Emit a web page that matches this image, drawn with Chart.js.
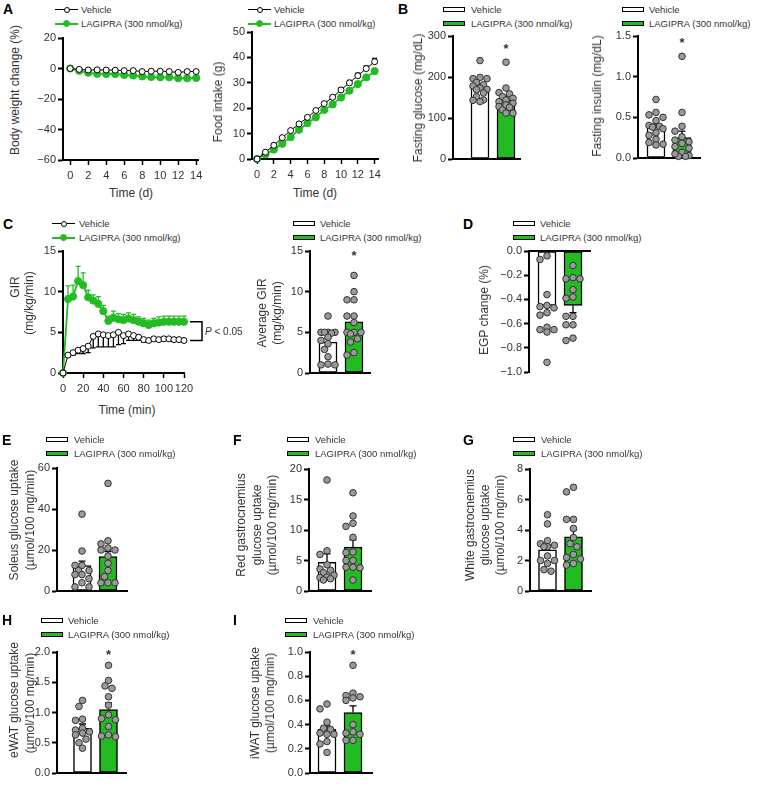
<!DOCTYPE html>
<html>
<head>
<meta charset="utf-8">
<title>LAGIPRA</title>
<script src="https://cdn.jsdelivr.net/npm/chart.js@4.4.1/dist/chart.umd.min.js"></script>
<style>
  html, body { margin: 0; padding: 0; background: #fff; }
  #fig { position: relative; width: 763px; height: 787px; overflow: hidden; background: #fff;
         font-family: "Liberation Sans", Arial, sans-serif; color: #333; }
  #fig canvas { position: absolute; }
  .tag { position: absolute; font-size: 14px; line-height: 14px; font-weight: bold; color: #000; }
  .lg { position: absolute; font-size: 9.5px; line-height: 12px; white-space: nowrap; }
  .sym { position: absolute; box-sizing: border-box; }
  .ttl { position: absolute; font-size: 12px; line-height: 14px; white-space: nowrap; }
  .pv { position: absolute; font-size: 10px; line-height: 12px; white-space: nowrap; }
</style>
</head>
<body>
<div id="fig"></div>
<script>
// ---- data ----
const groups = ['Vehicle', 'LAGIPRA (300 nmol/kg)'];

// A: body weight change (%) and cumulative food intake (g), days 0-14
const days = [0, 1, 2, 3, 4, 5, 6, 7, 8, 9, 10, 11, 12, 13, 14];
const dayTicks = [0, 2, 4, 6, 8, 10, 12, 14];
const bwVehicle = [0, -0.6, -1.0, -0.9, -1.0, -1.1, -1.4, -1.4, -2.0, -1.8, -1.8, -2.0, -2.6, -2.0, -2.0];
const bwLagipra = [0, -1.5, -2.8, -3.5, -3.6, -3.6, -4.2, -4.6, -5.2, -5.6, -5.8, -5.8, -6.4, -6.4, -6.2];
const foodVehicle = [0, 2.7, 5.4, 8.4, 11.2, 13.8, 16.4, 19.1, 21.8, 24.3, 27.2, 30.0, 32.8, 35.6, 38.3];
const foodVehicleSem = [0, 0.2, 0.3, 0.4, 0.4, 0.5, 0.5, 0.6, 0.6, 0.7, 0.8, 0.9, 1.0, 1.1, 1.3];
const foodLagipra = [0, 1.8, 3.7, 6.0, 8.6, 11.5, 14.1, 16.4, 19.3, 21.5, 24.2, 26.9, 29.5, 32.1, 34.6];
const foodLagipraSem = [0, 0.2, 0.3, 0.3, 0.4, 0.4, 0.5, 0.5, 0.6, 0.6, 0.7, 0.7, 0.8, 0.9, 1.0];

// C: glucose infusion rate during clamp (mg/kg/min), every 5 min
const clampMin = [0, 5, 10, 15, 20, 25, 30, 35, 40, 45, 50, 55, 60, 65, 70, 75, 80, 85, 90, 95, 100, 105, 110, 115, 120];
const minTicks = [0, 20, 40, 60, 80, 100, 120];
const girVehicle = [0, 2.2, 2.5, 2.8, 3.0, 3.3, 4.5, 4.8, 4.7, 4.6, 4.7, 5.0, 4.6, 4.8, 4.6, 4.4, 4.1, 4.0, 4.2, 4.1, 4.2, 4.2, 4.1, 4.1, 4.0];
const girVehicleSem = [0, 0.2, 0.3, 0.4, 0.6, 0.8, 1.4, 1.6, 1.5, 1.4, 1.5, 1.5, 1.0, 0.8, 0.6, 0.4, 0.3, 0.2, 0.2, 0.2, 0.2, 0.2, 0.2, 0.2, 0.2];
const girLagipra = [0, 9.1, 9.4, 11.3, 10.8, 9.3, 8.9, 8.5, 7.6, 6.4, 6.8, 6.6, 6.5, 6.7, 6.5, 6.3, 6.1, 5.9, 6.1, 6.2, 6.3, 6.3, 6.3, 6.3, 6.3];
const girLagipraSem = [0, 1.6, 1.4, 1.8, 1.5, 0.9, 0.7, 0.9, 0.7, 0.6, 0.8, 0.7, 0.7, 0.7, 0.7, 0.6, 0.6, 0.6, 0.6, 0.7, 0.7, 0.7, 0.7, 0.7, 0.7];

// individual animals + bar mean and SEM, [vehicle, LAGIPRA]
const glucoseVehicle = [240, 199, 196, 196, 187, 181, 178, 173, 170, 169, 161, 152, 144, 140, 143];
const glucoseLagipra = [236, 173, 162, 159, 152, 148, 144, 140, 136, 128, 120, 112, 112, 132, 126];
const glucoseMean = [175, 145];
const glucoseSem = [7, 8];

const insulinVehicle = [0.72, 0.56, 0.53, 0.50, 0.46, 0.40, 0.39, 0.36, 0.31, 0.28, 0.23, 0.19, 0.16, 0.17, 0.38];
const insulinLagipra = [1.25, 0.56, 0.39, 0.33, 0.26, 0.22, 0.18, 0.14, 0.07, 0.03, 0.02, 0.02, 0.12, 0.05, 0.20];
const insulinMean = [0.38, 0.25];
const insulinSem = [0.04, 0.08];

const avgGirVehicle = [7.0, 5.0, 5.0, 5.0, 5.0, 4.9, 4.4, 4.0, 3.6, 2.9, 2.0, 1.1, 1.0, 1.0];
const avgGirLagipra = [12.0, 10.0, 9.0, 9.0, 7.0, 7.0, 6.2, 5.0, 5.0, 5.0, 4.8, 4.2, 3.8, 2.5, 2.2];
const avgGirMean = [3.8, 6.3];
const avgGirSem = [0.5, 0.7];

const egpVehicle = [-0.04, -0.07, -0.36, -0.45, -0.46, -0.47, -0.51, -0.53, -0.63, -0.65, -0.67, -0.65, -0.92];
const egpLagipra = [-0.12, -0.23, -0.23, -0.22, -0.32, -0.39, -0.38, -0.54, -0.54, -0.61, -0.61, -0.74, -0.72];
const egpMean = [-0.45, -0.45];
const egpSem = [0.06, 0.06];

const soleusVehicle = [37.5, 19.5, 12.5, 12.5, 10, 10, 8, 8, 6, 4, 2, 2];
const soleusLagipra = [52.5, 24.5, 23, 21, 20, 20, 17, 13.5, 10, 7, 4, 4, 4];
const soleusMean = [12.4, 16.8];
const soleusSem = [2.2, 2.4];

const redGasVehicle = [18.2, 6.6, 6.0, 4.3, 3.6, 3.4, 3.0, 2.6, 2.3, 2.2, 2.0, 1.8];
const redGasLagipra = [16.1, 12.3, 11.1, 10.6, 8.8, 6.4, 6.3, 5.0, 5.0, 3.9, 3.9, 3.8, 1.8];
const redGasMean = [4.7, 7.2];
const redGasSem = [1.4, 1.2];

const whiteGasVehicle = [5.0, 4.4, 3.3, 3.1, 3.0, 2.9, 2.9, 2.3, 2.0, 2.0, 1.8, 1.4, 1.3];
const whiteGasLagipra = [6.8, 6.5, 4.7, 4.7, 4.1, 3.5, 3.1, 2.9, 2.4, 2.2, 2.1, 1.8, 1.7];
const whiteGasMean = [2.7, 3.55];
const whiteGasSem = [0.3, 0.45];

const ewatVehicle = [1.2, 1.1, 0.89, 0.87, 0.74, 0.71, 0.68, 0.66, 0.63, 0.56, 0.5, 0.41];
const ewatLagipra = [1.78, 1.53, 1.44, 1.4, 1.26, 1.12, 0.96, 0.9, 0.88, 0.77, 0.63, 0.6, 0.61];
const ewatMean = [0.74, 1.05];
const ewatSem = [0.07, 0.11];

const iwatVehicle = [0.57, 0.53, 0.42, 0.37, 0.36, 0.33, 0.32, 0.32, 0.26, 0.24, 0.17];
const iwatLagipra = [0.89, 0.66, 0.64, 0.63, 0.62, 0.60, 0.40, 0.34, 0.33, 0.32, 0.27, 0.27];
const iwatMean = [0.36, 0.50];
const iwatSem = [0.03, 0.055];

// ---- drawing ----
const GREEN = '#22bb22';
const DOT = '#9a9a9a';
const INK = '#333';
const FONT = '"Liberation Sans", Arial, sans-serif';
Chart.defaults.font.family = FONT;
Chart.defaults.font.size = 11;
Chart.defaults.color = INK;

const fig = document.getElementById('fig');

function put(html, cls, x, y, tf) {
  const el = document.createElement('div');
  el.className = cls;
  el.innerHTML = html;
  el.style.left = x + 'px';
  el.style.top = y + 'px';
  if (tf) el.style.transform = tf;
  fig.appendChild(el);
  return el;
}
const tag = (t, x, y) => put(t, 'tag', x, y);
const vTitle = (t, x, y) => put(t, 'ttl', x, y, 'translate(-50%,-50%) rotate(-90deg)');
const hTitle = (t, x, y) => put(t, 'ttl', x, y, 'translate(-50%,-50%)');

function legend(kind, x, y, tx) {
  [[groups[0], '#fff', '#000'], [groups[1], GREEN, GREEN]].forEach(([name, fill, line], i) => {
    const cy = y + i * 14;
    if (kind === 'line') {
      const l = put('', 'sym', x, cy - (i ? 1 : 0.5));
      l.style.width = '23px';
      l.style.height = (i ? 2 : 1) + 'px';
      l.style.background = line;
      const r = i ? 3.5 : 3;
      const c = put('', 'sym', x + 11.5 - r, cy - r);
      c.style.width = c.style.height = 2 * r + 'px';
      c.style.borderRadius = '50%';
      c.style.background = fill;
      c.style.border = '1px solid ' + line;
    } else {
      const b = put('', 'sym', x, cy - 2.5);
      b.style.width = '22px';
      b.style.height = '5px';
      b.style.background = fill;
      b.style.border = '1px solid #000';
    }
    put(name, 'lg', tx, cy - 6);
  });
}

function canvasAt(left, top, w, h) {
  const c = document.createElement('canvas');
  c.width = w; c.height = h;
  c.style.left = left + 'px'; c.style.top = top + 'px';
  c.style.width = w + 'px'; c.style.height = h + 'px';
  fig.appendChild(c);
  return c;
}

const fmt = dec => v => Number(v).toFixed(dec).replace('-', '\u2212');

// error bars go before the dataset so points/bars sit on top
const errorBars = {
  id: 'errorBars',
  beforeDatasetDraw(chart, args) {
    const ds = chart.data.datasets[args.index];
    if (!ds.errors) return;
    const { ctx, scales: { x, y } } = chart;
    ctx.save();
    ctx.strokeStyle = ds.errorColor || '#000';
    ctx.lineWidth = 1.3;
    ds.data.forEach((p, i) => {
      const e = ds.errors[i];
      if (!e) return;
      const dir = ds.errorDir || (p.y < 0 ? -1 : 1);
      const px = x.getPixelForValue(p.x);
      const y0 = y.getPixelForValue(p.y), y1 = y.getPixelForValue(p.y + dir * e);
      const cap = ds.capHalf || 3;
      ctx.beginPath();
      ctx.moveTo(px, y0); ctx.lineTo(px, y1);
      ctx.moveTo(px - cap, y1); ctx.lineTo(px + cap, y1);
      ctx.stroke();
    });
    ctx.restore();
  }
};

// asterisk above the LAGIPRA bar, P-value bracket on the clamp curve
const marks = {
  id: 'marks',
  afterDraw(chart, args, o) {
    const { ctx, chartArea, scales: { x, y } } = chart;
    ctx.save();
    ctx.fillStyle = INK;
    ctx.strokeStyle = '#000';
    if (o.star != null) {
      ctx.font = 'bold 13px ' + FONT;
      ctx.textAlign = 'center';
      ctx.textBaseline = 'middle';
      ctx.fillText('*', x.getPixelForValue(1), chartArea.top + o.star + 3.5);
    }
    if (o.bracket) {
      const y1 = y.getPixelForValue(o.bracket[0]), y2 = y.getPixelForValue(o.bracket[1]);
      const a = chartArea.right + 6, b = chartArea.right + 18;
      ctx.lineWidth = 1.5;
      ctx.beginPath();
      ctx.moveTo(a, y1); ctx.lineTo(b, y1); ctx.lineTo(b, y2); ctx.lineTo(a, y2);
      ctx.stroke();
    }
    ctx.restore();
  }
};
Chart.register(errorBars, marks);

function yScale(min, max, step, dec, yW) {
  return {
    type: 'linear', min, max, position: 'left',
    afterFit: s => { s.width = yW; },
    border: { display: true, color: '#000', width: 2 },
    grid: { drawOnChartArea: false, drawTicks: true, tickLength: 5, tickWidth: 2, color: '#000' },
    ticks: { stepSize: step, padding: 2, color: INK, font: { size: 11 }, callback: fmt(dec) }
  };
}

const baseOpts = {
  responsive: false, animation: false, devicePixelRatio: 1, events: []
};

// simple beeswarm: horizontal offsets (in x units) so dots stay inside the column
function swarm(vals, pyu, pxu) {
  const D = 6.4, cands = [0, -3.5, 3.5, -7, 7];
  const placed = [], offs = [];
  vals.map((v, i) => i).sort((a, b) => vals[b] - vals[a]).forEach(i => {
    const y = vals[i] * pyu;
    let best = 0, bestD = -1;
    for (const cx of cands) {
      const md = placed.reduce((m, p) => Math.min(m, Math.hypot(p.x - cx, p.y - y)), Infinity);
      if (md >= D) { best = cx; break; }
      if (md > bestD) { bestD = md; best = cx; }
    }
    placed.push({ x: best, y });
    offs[i] = best / pxu;
  });
  return offs;
}

function barPanel(g, veh, lag, means, sems) {
  const yW = 40, pad = 10, u = 26;
  const left = g.ax - yW, top = g.top - pad;
  const w = g.right - left + 6, h = g.bot - g.top + 2 * pad;
  const pyu = (g.bot - g.top) / (g.max - g.min);
  const vOff = swarm(veh, pyu, u), lOff = swarm(lag, pyu, u);
  const dots = veh.map((v, i) => ({ x: vOff[i], y: v }))
    .concat(lag.map((v, i) => ({ x: 1 + lOff[i], y: v })));
  new Chart(canvasAt(left, top, w, h), {
    type: 'bar',
    data: {
      datasets: [
        { type: 'bar', data: [{ x: 0, y: means[0] }, { x: 1, y: means[1] }],
          backgroundColor: ['#fff', GREEN], borderColor: '#000', borderWidth: 1.5,
          borderSkipped: false, barThickness: 18, errors: sems, capHalf: 3.5, order: 2 },
        { type: 'scatter', data: dots, pointRadius: 3.3, backgroundColor: DOT,
          borderColor: '#333', borderWidth: 1, order: 1, clip: false }
      ]
    },
    options: {
      ...baseOpts,
      layout: { padding: { left: 0, top: pad, bottom: pad, right: 6 } },
      plugins: { legend: { display: false }, tooltip: { enabled: false }, marks: { star: g.star } },
      scales: {
        x: { type: 'linear', offset: false, position: g.xPos || 'bottom',
             min: -(g.c0 - g.ax) / u, max: (g.right - g.c0) / u,
             afterFit: s => { s.height = 0; },
             border: { display: true, color: '#000', width: 2 },
             grid: { display: false }, ticks: { display: false } },
        y: yScale(g.min, g.max, g.step, g.dec, yW)
      }
    }
  });
}

function linePanel(g, xs, veh, lag) {
  const yW = 40, pad = 10, xH = 24, padR = g.padR || 12;
  const left = g.ax - yW, top = g.top - pad;
  const w = g.right - left + padR, h = g.bot - g.top + pad + xH;
  const pts = a => a.map((v, i) => ({ x: xs[i], y: v }));
  new Chart(canvasAt(left, top, w, h), {
    type: 'line',
    data: {
      datasets: [
        { data: pts(veh.vals), errors: veh.sems, errorDir: veh.dir, errorColor: '#000', capHalf: 2.5,
          borderColor: '#000', borderWidth: 1, pointRadius: 3, pointBackgroundColor: '#fff',
          pointBorderColor: '#000', pointBorderWidth: 1, clip: false, order: 0 },
        { data: pts(lag.vals), errors: lag.sems, errorDir: lag.dir, errorColor: GREEN, capHalf: 2.5,
          borderColor: GREEN, borderWidth: 1.8, pointRadius: 3.6, pointBackgroundColor: GREEN,
          pointBorderColor: GREEN, pointBorderWidth: 1, clip: false, order: 1 }
      ]
    },
    options: {
      ...baseOpts,
      layout: { padding: { left: 0, top: pad, bottom: 0, right: padR } },
      plugins: { legend: { display: false }, tooltip: { enabled: false }, marks: { bracket: g.bracket } },
      scales: {
        x: { type: 'linear', offset: false, min: g.xmin, max: g.xmax,
             afterFit: s => { s.height = xH; },
             afterBuildTicks: s => { s.ticks = g.xticks.map(v => ({ value: v })); },
             border: { display: true, color: '#000', width: 2 },
             grid: { drawOnChartArea: false, drawTicks: true, tickLength: 5, tickWidth: 1.5, color: '#000' },
             ticks: { padding: 4, maxRotation: 0, autoSkip: false, color: INK, font: { size: 11 },
                      callback: v => String(v) } },
        y: yScale(g.min, g.max, g.step, g.dec, yW)
      }
    }
  });
}

// ---- panel A ----
tag('A', 3, 2);
legend('line', 55, 9.5, 81);
linePanel({ ax: 63, top: 38, bot: 160, right: 198, xmin: -0.8, xmax: 14.2, xticks: dayTicks,
            min: -60, max: 20, step: 20, dec: 0 }, days,
          { vals: bwVehicle }, { vals: bwLagipra });
vTitle('Body weight change (%)', 15, 90);
hTitle('Time (d)', 131, 193);

legend('line', 248, 9.5, 274);
linePanel({ ax: 252, top: 32, bot: 159, right: 378, xmin: -0.6, xmax: 14.4, xticks: dayTicks,
            min: 0, max: 50, step: 10, dec: 0 }, days,
          { vals: foodVehicle, sems: foodVehicleSem, dir: 1 }, { vals: foodLagipra, sems: foodLagipraSem, dir: -1 });
vTitle('Food intake (g)', 218, 102);
hTitle('Time (d)', 315, 193);

// ---- panel B ----
tag('B', 398, 2);
legend('bar', 443, 9.5, 471);
barPanel({ ax: 453, top: 36, bot: 159, c0: 480, right: 520, min: 0, max: 300, step: 100, dec: 0, star: 10 },
         glucoseVehicle, glucoseLagipra, glucoseMean, glucoseSem);
vTitle('Fasting glucose (mg/dL)', 418, 98);

legend('bar', 622, 9.5, 649);
barPanel({ ax: 638, top: 36, bot: 158, c0: 656, right: 700, min: 0, max: 1.5, step: 0.5, dec: 1, star: 4 },
         insulinVehicle, insulinLagipra, insulinMean, insulinSem);
vTitle('Fasting insulin (mg/dL)', 597, 96);

// ---- panel C ----
tag('C', 3, 217);
legend('line', 52, 223.5, 79);
linePanel({ ax: 63, top: 251, bot: 373, right: 184, padR: 30, xmin: 0, xmax: 120, xticks: minTicks,
            min: 0, max: 15, step: 5, dec: 0,
            bracket: [girLagipra[girLagipra.length - 1], girVehicle[girVehicle.length - 1]] }, clampMin,
          { vals: girVehicle, sems: girVehicleSem, dir: -1 }, { vals: girLagipra, sems: girLagipraSem, dir: 1 });
vTitle('GIR', 15, 287);
vTitle('(mg/kg/min)', 29, 303);
hTitle('Time (min)', 127, 410);
put('<i>P</i> &lt; 0.05', 'pv', 205, 326);

legend('bar', 293, 223.5, 320);
barPanel({ ax: 310, top: 251, bot: 373, c0: 328, right: 370, min: 0, max: 15, step: 5, dec: 0, star: 2 },
         avgGirVehicle, avgGirLagipra, avgGirMean, avgGirSem);
vTitle('Average GIR', 262, 313);
vTitle('(mg/kg/min)', 277, 313);

// ---- panel D ----
tag('D', 463, 217);
legend('bar', 513, 223.5, 540);
barPanel({ ax: 529, top: 251, bot: 372, c0: 547, right: 590, min: -1, max: 0, step: 0.2, dec: 1, xPos: 'top' },
         egpVehicle, egpLagipra, egpMean, egpSem);
vTitle('EGP change (%)', 484, 310);

// ---- panel E, F, G ----
tag('E', 2, 433);
legend('bar', 46, 439.5, 74);
barPanel({ ax: 57, top: 468, bot: 591, c0: 82, right: 127, min: 0, max: 60, step: 20, dec: 0 },
         soleusVehicle, soleusLagipra, soleusMean, soleusSem);
vTitle('Soleus glucose uptake', 14, 520);
vTitle('(\u00b5mol/100 mg/min)', 30, 520);

tag('F', 233, 433);
legend('bar', 287, 439.5, 315);
barPanel({ ax: 309, top: 469, bot: 591, c0: 327, right: 371, min: 0, max: 20, step: 5, dec: 0 },
         redGasVehicle, redGasLagipra, redGasMean, redGasSem);
vTitle('Red gastrocnemius', 241, 525);
vTitle('glucose uptake', 257, 525);
vTitle('(\u00b5mol/100 mg/min)', 272, 525);

tag('G', 463, 433);
legend('bar', 513, 439.5, 541);
barPanel({ ax: 530, top: 469, bot: 591, c0: 547.5, right: 591, min: 0, max: 8, step: 2, dec: 0 },
         whiteGasVehicle, whiteGasLagipra, whiteGasMean, whiteGasSem);
vTitle('White gastrocnemius', 470, 525);
vTitle('glucose uptake', 485, 525);
vTitle('(\u00b5mol/100 mg/min)', 500, 525);

// ---- panel H, I ----
tag('H', 2, 613);
legend('bar', 41, 620.5, 68);
barPanel({ ax: 57, top: 652, bot: 773, c0: 82.5, right: 126, min: 0, max: 2, step: 0.5, dec: 1, star: 0 },
         ewatVehicle, ewatLagipra, ewatMean, ewatSem);
vTitle('eWAT glucose uptake', 14, 700);
vTitle('(\u00b5mol/100 mg/min)', 30, 703);

tag('I', 233, 613);
legend('bar', 285, 620.5, 313);
barPanel({ ax: 310, top: 652, bot: 773, c0: 327, right: 372, min: 0, max: 1, step: 0.2, dec: 1, star: 0 },
         iwatVehicle, iwatLagipra, iwatMean, iwatSem);
vTitle('iWAT glucose uptake', 255, 703);
vTitle('(\u00b5mol/100 mg/min)', 270, 703);
</script>
</body>
</html>
